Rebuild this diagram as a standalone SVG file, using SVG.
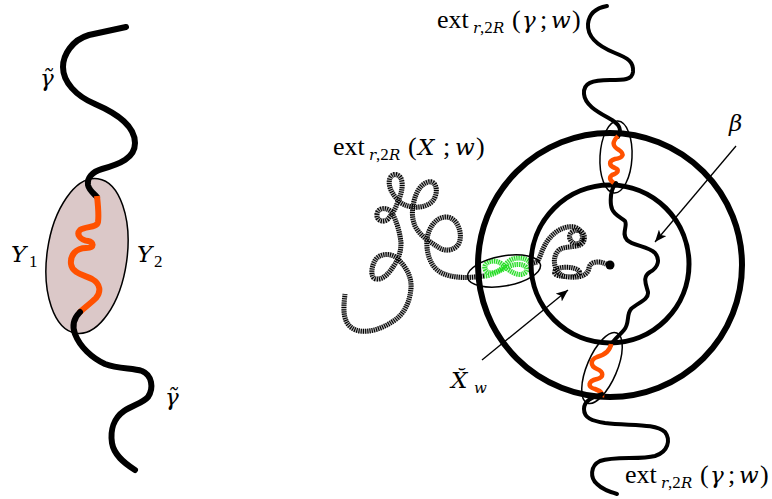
<svg xmlns="http://www.w3.org/2000/svg" width="772" height="499" viewBox="0 0 772 499">
<style>
.bk{fill:none;stroke:#000;stroke-width:6;stroke-linecap:round;stroke-linejoin:round}
.bk2{fill:none;stroke:#000;stroke-width:4;stroke-linecap:round;stroke-linejoin:round}
.or{fill:none;stroke:#ff5100;stroke-width:6;stroke-linecap:butt;stroke-linejoin:round}
.or2{fill:none;stroke:#ff5100;stroke-width:4.5;stroke-linecap:butt;stroke-linejoin:round}
.ell{fill:none;stroke:#000;stroke-width:1.5}
.xb{fill:none;stroke:#b8b8b8;stroke-width:5;stroke-linecap:butt;stroke-linejoin:round}
.xd{fill:none;stroke:#000;stroke-width:5;stroke-dasharray:1.1 1.1;stroke-linejoin:round}
.gb{fill:none;stroke:#c8f5c8;stroke-width:5;stroke-linejoin:round}
.gd{fill:none;stroke:#22dd22;stroke-width:5;stroke-dasharray:1.1 1.1;stroke-linejoin:round}
.ring{fill:none;stroke:#000}
.arr{fill:none;stroke:#000;stroke-width:1.3}
text{font-family:"Liberation Serif","DejaVu Serif","Times New Roman",serif;font-size:26px;fill:#000}
.it{font-family:"DejaVu Serif","Liberation Serif",serif;font-style:italic;font-size:23px}
.sb{font-size:17px}
.sbi{font-family:"DejaVu Serif","Liberation Serif",serif;font-style:italic;font-size:15px}
</style>
<defs>
<marker id="ah" markerUnits="userSpaceOnUse" markerWidth="14" markerHeight="10" refX="12" refY="5" orient="auto">
<path d="M0,0 L12,5 L0,10 L3,5 Z" fill="#000"/>
</marker>
</defs>

<g id="left-figure">
<g id="region-Y">
<ellipse cx="87" cy="256" rx="40" ry="78" transform="rotate(8 87 256)" fill="#dbc8c8" stroke="#000" stroke-width="1.5"/>
</g>
<g id="gamma-tilde-left">
<path class="bk" d="M126,27 L89,35 C72,40 63,55 63,67 C63,82 76,96 95,104 C118,114 135,126 135,143 C135,158 120,164 102,169 C92,172 87,178 88,185 C89,190 93,193 97,197"/>
<path class="or" d="M97,196 C98,205 99,215 98,222 C97,228 86,226 80,230 C76,234 80,240 88,241 C94,242 95,248 86,248 C76,248 70,255 71,264 C72,273 84,275 92,279 C101,284 101,292 96,298 C91,303 84,308 79,313"/>
<path class="bk" d="M80,312 C74,318 72,326 75,334 C80,347 92,358 105,364 C118,369 132,368 142,371 C152,375 154,388 148,397 C143,403 133,405 124,411 C114,418 110,430 112,443 C114,455 124,463 135,470"/>
</g>
<g id="left-labels">
<text class="it" x="40" y="86">γ̃</text>
<text class="it" x="165" y="405">γ̃</text>
<text><tspan class="it" x="11" y="262">Y</tspan><tspan class="sb" x="29" y="267">1</tspan></text>
<text><tspan class="it" x="137" y="262">Y</tspan><tspan class="sb" x="154" y="267">2</tspan></text>
</g>
</g>

<g id="path-X">
<path class="xb" d="M537,262 C540,258 541,252 545,245 C550,235 562,225 574,227 C582,229 585,238 580,243 C572,247 566,236 572,232 C578,228 586,232 584,240 C582,250 564,244 558,251 C552,258 554,269 560,274 C568,280 582,276 579,271 C575,266 557,266 555,271 C553,276 560,276 570,277 C582,278 588,274 589,268 C590,262 598,260 606,264"/>
<path class="xd" d="M537,262 C540,258 541,252 545,245 C550,235 562,225 574,227 C582,229 585,238 580,243 C572,247 566,236 572,232 C578,228 586,232 584,240 C582,250 564,244 558,251 C552,258 554,269 560,274 C568,280 582,276 579,271 C575,266 557,266 555,271 C553,276 560,276 570,277 C582,278 588,274 589,268 C590,262 598,260 606,264"/>
<path class="xb" d="M537,262 L530,264"/>
<path class="xd" d="M537,262 L530,264"/>
<path class="gb" d="M531,264 C526,256 512,256 506,264 C500,272 488,277 485,269 C483,261 496,258 503,265 C510,272 520,278 526,272 C530,266 520,262 510,266 C500,270 492,276 484,276"/>
<path class="gd" d="M531,264 C526,256 512,256 506,264 C500,272 488,277 485,269 C483,261 496,258 503,265 C510,272 520,278 526,272 C530,266 520,262 510,266 C500,270 492,276 484,276"/>
<path class="xb" d="M484,276 C470,278 452,279 440,272 C430,266 426,252 427,240 C428,228 436,217 446,217 C456,217 462,230 460,240 C458,250 446,253 438,247 C430,242 420,236 415,226 C412,219 412,212 413,207 C414,198 418,185 428,182 C436,180 438,190 435,197 C432,205 422,208 413,207 C406,206 401,204 398,200 C393,195 387,186 390,178 C393,172 401,174 402,182 C403,190 400,197 397,204 C395,210 392,214 388,219 C384,223 376,221 377,214 C378,207 388,207 392,213 C396,220 400,232 401,243 C401,252 399,257 395,264 C390,272 384,280 376,279 C370,278 371,266 376,259 C381,253 392,253 398,259 C405,266 412,276 411,288 C410,302 404,315 392,322 C380,330 362,335 352,328 C343,322 343,310 345,294"/>
<path class="xd" d="M484,276 C470,278 452,279 440,272 C430,266 426,252 427,240 C428,228 436,217 446,217 C456,217 462,230 460,240 C458,250 446,253 438,247 C430,242 420,236 415,226 C412,219 412,212 413,207 C414,198 418,185 428,182 C436,180 438,190 435,197 C432,205 422,208 413,207 C406,206 401,204 398,200 C393,195 387,186 390,178 C393,172 401,174 402,182 C403,190 400,197 397,204 C395,210 392,214 388,219 C384,223 376,221 377,214 C378,207 388,207 392,213 C396,220 400,232 401,243 C401,252 399,257 395,264 C390,272 384,280 376,279 C370,278 371,266 376,259 C381,253 392,253 398,259 C405,266 412,276 411,288 C410,302 404,315 392,322 C380,330 362,335 352,328 C343,322 343,310 345,294"/>
</g>

<g id="annuli">
<circle class="ring" cx="610" cy="265" r="132" stroke-width="6"/>
<circle class="ring" cx="610" cy="264" r="79" stroke-width="5"/>
<circle cx="610" cy="265" r="4.5" fill="#000"/>
</g>

<g id="path-gamma">
<path class="bk2" d="M607,6 C596,8 589,13 588,24 C587,38 600,47 615,53 C628,58 634,62 633,72 C632,80 624,80 610,80 C592,80 583,83 584,94 C585,106 600,113 612,120 C620,125 622,130 618,137"/>
<path class="or2" d="M618,136 C612,142 612,146 619,150 C625,154 623,158 615,159 C608,161 609,166 615,168 C620,170 618,173 612,175 C608,178 611,182 616,184"/>
<path class="bk2" d="M616,183 C612,188 610,196 611,205 C612,214 620,217 625,221 C628,226 621,234 627,240 C633,246 648,246 655,253 C660,259 659,267 650,272 C642,277 646,284 648,292 C649,300 637,303 631,309 C626,315 630,323 624,330 C620,335 614,339 611,345"/>
<path class="or2" d="M611,344 C610,352 604,355 597,357 C590,360 590,366 597,369 C604,372 604,377 597,379 C588,381 587,387 595,389 C601,391 603,394 602,397"/>
<path class="bk2" d="M602,394 C594,397 584,400 584,409 C584,418 592,421 605,423 C630,426 655,423 665,432 C671,440 668,452 655,456 C640,460 615,456 600,461 C590,466 590,478 597,484 C603,490 610,492 617,494"/>
</g>

<g id="ellipses">
<ellipse class="ell" cx="616" cy="157" rx="16" ry="36" transform="rotate(3 616 157)"/>
<ellipse class="ell" cx="602" cy="368" rx="15" ry="38" transform="rotate(23 602 368)"/>
<ellipse class="ell" cx="504" cy="271" rx="37" ry="15" transform="rotate(-10 504 271)"/>
</g>

<g id="connectors">
<line class="arr" x1="736" y1="146" x2="655" y2="242" marker-end="url(#ah)"/>
<line class="arr" x1="482" y1="360" x2="568" y2="290" marker-end="url(#ah)"/>
</g>

<g id="labels">
<text><tspan x="333" y="155">ext</tspan><tspan class="sbi" x="369" y="160">r</tspan><tspan class="sb" x="376" y="160">,2</tspan><tspan class="sbi" x="389" y="160">R</tspan><tspan x="408" y="155">(</tspan><tspan class="it" x="418" y="155">X</tspan><tspan x="443" y="155">;</tspan><tspan class="it" x="455" y="155">w</tspan><tspan x="476" y="155">)</tspan></text>
<text><tspan x="437" y="28">ext</tspan><tspan class="sbi" x="473" y="33">r</tspan><tspan class="sb" x="480" y="33">,2</tspan><tspan class="sbi" x="493" y="33">R</tspan><tspan x="512" y="28">(</tspan><tspan class="it" x="522" y="28">γ</tspan><tspan x="540" y="28">;</tspan><tspan class="it" x="551" y="28">w</tspan><tspan x="572" y="28">)</tspan></text>
<text><tspan x="625" y="483">ext</tspan><tspan class="sbi" x="661" y="488">r</tspan><tspan class="sb" x="668" y="488">,2</tspan><tspan class="sbi" x="681" y="488">R</tspan><tspan x="700" y="483">(</tspan><tspan class="it" x="710" y="483">γ</tspan><tspan x="728" y="483">;</tspan><tspan class="it" x="739" y="483">w</tspan><tspan x="760" y="483">)</tspan></text>
<text class="it" x="729" y="131">β</text>
<text><tspan class="it" x="451" y="388">X̆</tspan><tspan class="sbi" x="474" y="393">w</tspan></text>
</g>
</svg>
